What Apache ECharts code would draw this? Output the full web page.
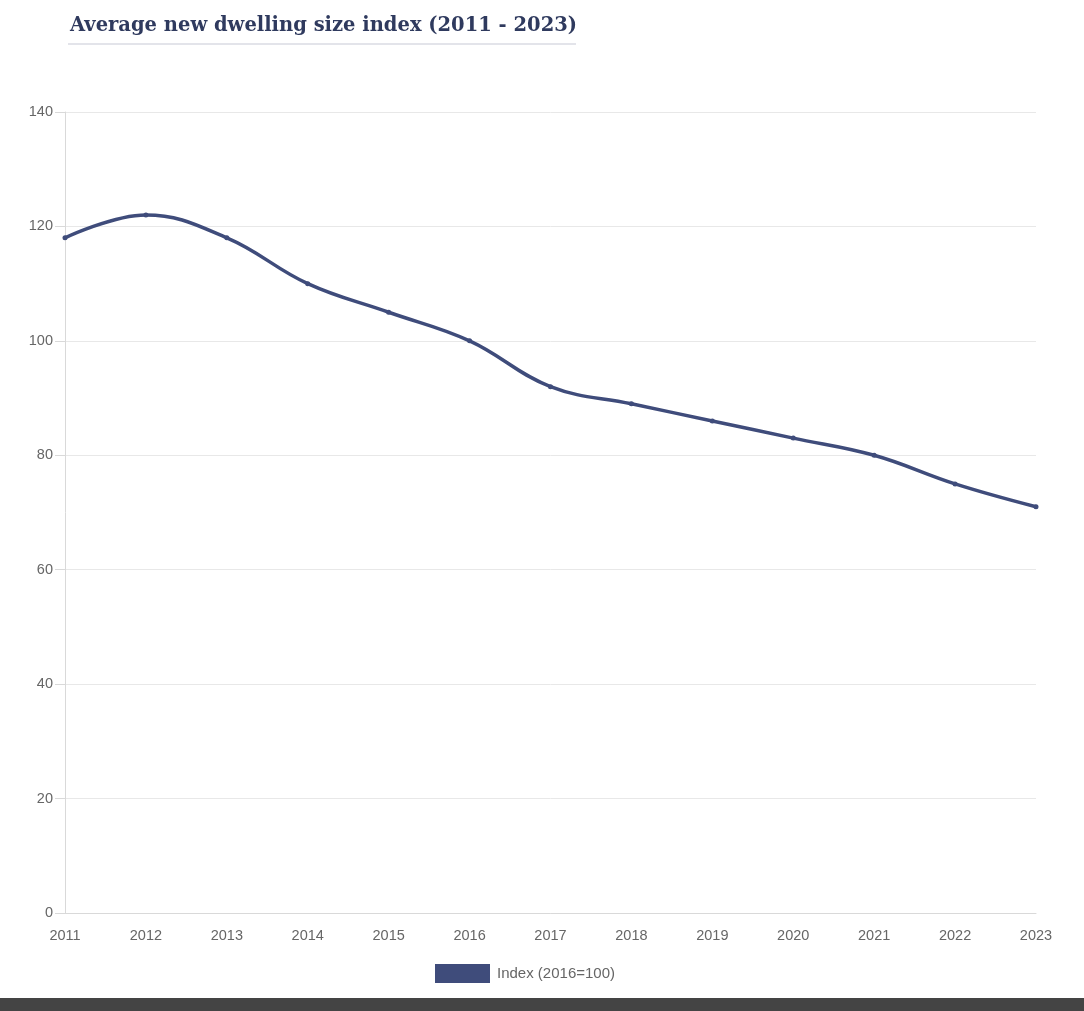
<!DOCTYPE html>
<html>
<head>
<meta charset="utf-8">
<script src="https://cdn.jsdelivr.net/npm/echarts@6/dist/echarts.min.js"></script>
<style>
html,body{margin:0;padding:0;background:#fff;}
#chart{width:1084px;height:1011px;}
</style>
</head>
<body>
<div id="chart"></div>
<script>
const years = ['2011','2012','2013','2014','2015','2016','2017','2018','2019','2020','2021','2022','2023'];
const indexValues = [118,122,118,110,105,100,92,89,86,83,80,75,71];
const seriesName = 'Index (2016=100)';
const titleText = 'Average new dwelling size index (2011 - 2023)';

const chart = echarts.init(document.getElementById('chart'));
chart.setOption({
  animation: false,
  backgroundColor: '#fff',
  title: {
    text: titleText,
    left: 65, top: 11,
    textStyle: { fontFamily: 'DejaVu Serif', fontWeight: 'bold', fontSize: 19.5, color: '#2f3a5e' }
  },
  graphic: [
    { type: 'rect', left: 68, top: 43, shape: { width: 508, height: 2 }, style: { fill: '#e3e4ea' } },
    { type: 'rect', left: 0, top: 998, shape: { width: 1084, height: 13 }, style: { fill: '#444444' } }
  ],
  legend: {
    data: [seriesName],
    left: 430, top: 959,
    itemWidth: 55, itemHeight: 19, itemGap: 8,
    icon: 'rect',
    textStyle: { color: '#666', fontSize: 15, fontFamily: 'Liberation Sans', padding: [0, 0, 0, 2] }
  },
  grid: { left: 65, right: 48, top: 112, bottom: 98, containLabel: false },
  xAxis: {
    type: 'category', data: years, boundaryGap: false,
    axisLine: { lineStyle: { color: '#d9d9d9' } },
    axisTick: { show: false },
    axisLabel: { color: '#666', fontSize: 14.5, fontFamily: 'Liberation Sans', margin: 15 },
    splitLine: { show: false }
  },
  yAxis: {
    type: 'value', min: 0, max: 140, interval: 20,
    axisLine: { show: true, lineStyle: { color: '#d9d9d9' } },
    axisTick: { show: true, length: 10, lineStyle: { color: '#d9d9d9' } },
    axisLabel: { color: '#666', fontSize: 14.5, fontFamily: 'Liberation Sans', margin: 12 },
    splitLine: { lineStyle: { color: '#e8e8e8' } }
  },
  series: [{
    name: seriesName, type: 'line', data: indexValues, smooth: 0.4,
    symbol: 'circle', symbolSize: 5,
    itemStyle: { color: '#3f4c7b' },
    lineStyle: { color: '#3f4c7b', width: 3.5 }
  }]
});
</script>
</body>
</html>
